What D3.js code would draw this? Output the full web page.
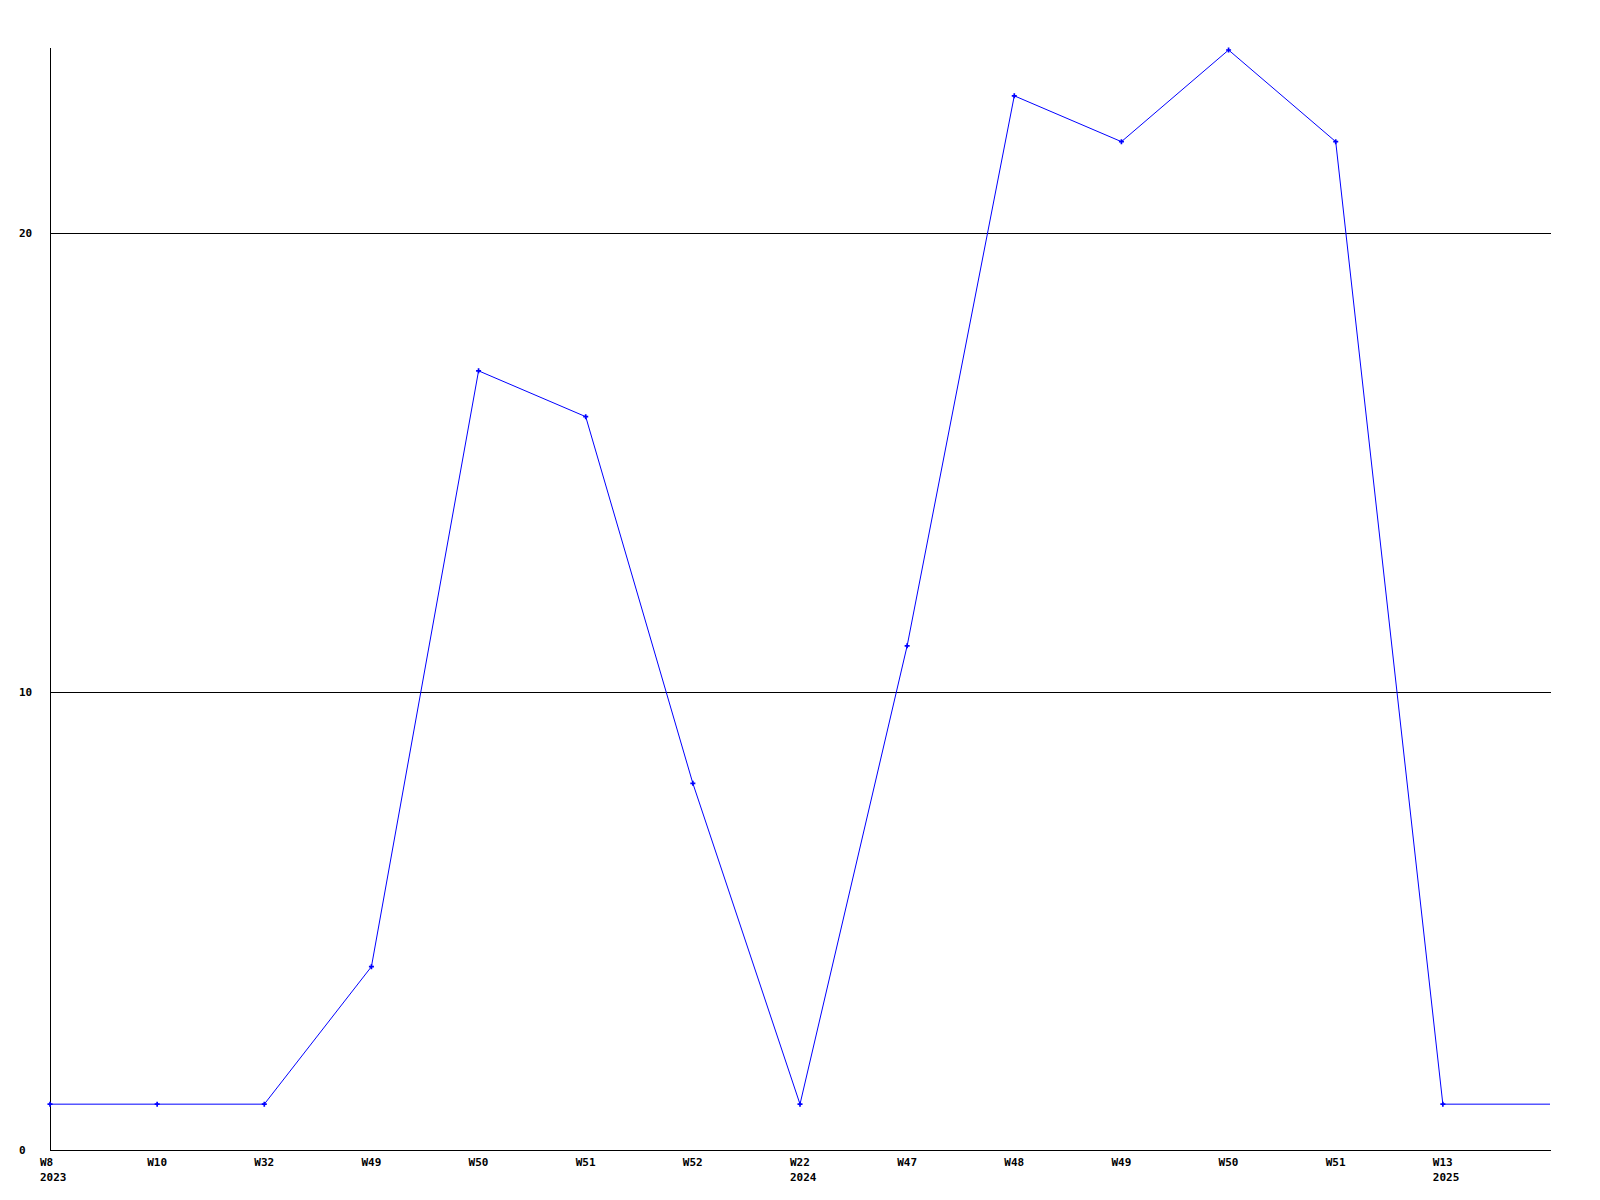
<!DOCTYPE html>
<html><head><meta charset="utf-8">
<script src="https://cdn.jsdelivr.net/npm/d3@7"></script>
<style>body{margin:0;background:#fff}svg{display:block}text{font-family:"DejaVu Sans Mono",monospace;font-weight:bold;font-size:11px;fill:#000}</style>
</head><body><svg id="c" width="1600" height="1200"></svg>
<script>
const weeks = ["W8","W10","W32","W49","W50","W51","W52","W22","W47","W48","W49","W50","W51","W13",""];
const years = ["2023","","","","","","","2024","","","","","","2025",""];
const values = [1,1,1,4,17,16,8,1,11,23,22,24,22,1,1];
const yTicks = [0,10,20];

const svg = d3.select("#c");
const x = d3.scaleLinear().domain([0,14]).range([50,1550]);
const y = d3.scaleLinear().domain([0,24]).range([1150,50]);

// gridlines
svg.selectAll("line.grid").data(yTicks.filter(d=>d>0)).join("line")
  .attr("x1",50).attr("x2",1551).attr("y1",d=>Math.round(y(d))+0.5).attr("y2",d=>Math.round(y(d))+0.5)
  .attr("stroke","#000").attr("stroke-width",1);
// axes
svg.append("line").attr("x1",50.5).attr("x2",50.5).attr("y1",48).attr("y2",1150).attr("stroke","#000");
svg.append("line").attr("x1",50).attr("x2",1551).attr("y1",1150.5).attr("y2",1150.5).attr("stroke","#000");
// y labels
svg.selectAll("text.yl").data(yTicks).join("text").attr("class","yl")
  .attr("x",19).attr("y",d=>y(d)).attr("dy","0.35em").text(d=>d);
// x labels
svg.selectAll("text.xl").data(weeks).join("text").attr("class","xl")
  .attr("x",(d,i)=>x(i)-10).attr("y",1166).text(d=>d);
svg.selectAll("text.yr").data(years).join("text").attr("class","yr")
  .attr("x",(d,i)=>x(i)-10).attr("y",1181).text(d=>d);
// line
const line = d3.line().x((d,i)=>x(i)).y(d=>y(d));
svg.append("path").attr("d",line(values)).attr("fill","none").attr("stroke","#0000ff").attr("stroke-width",1);
// markers
svg.selectAll("path.m").data(values.slice(0,14)).join("path").attr("class","m")
  .attr("transform",(d,i)=>`translate(${x(i)},${y(d)})`)
  .attr("d",d3.symbol(d3.symbolCross,14)).attr("fill","#0000ff");
</script></body></html>
